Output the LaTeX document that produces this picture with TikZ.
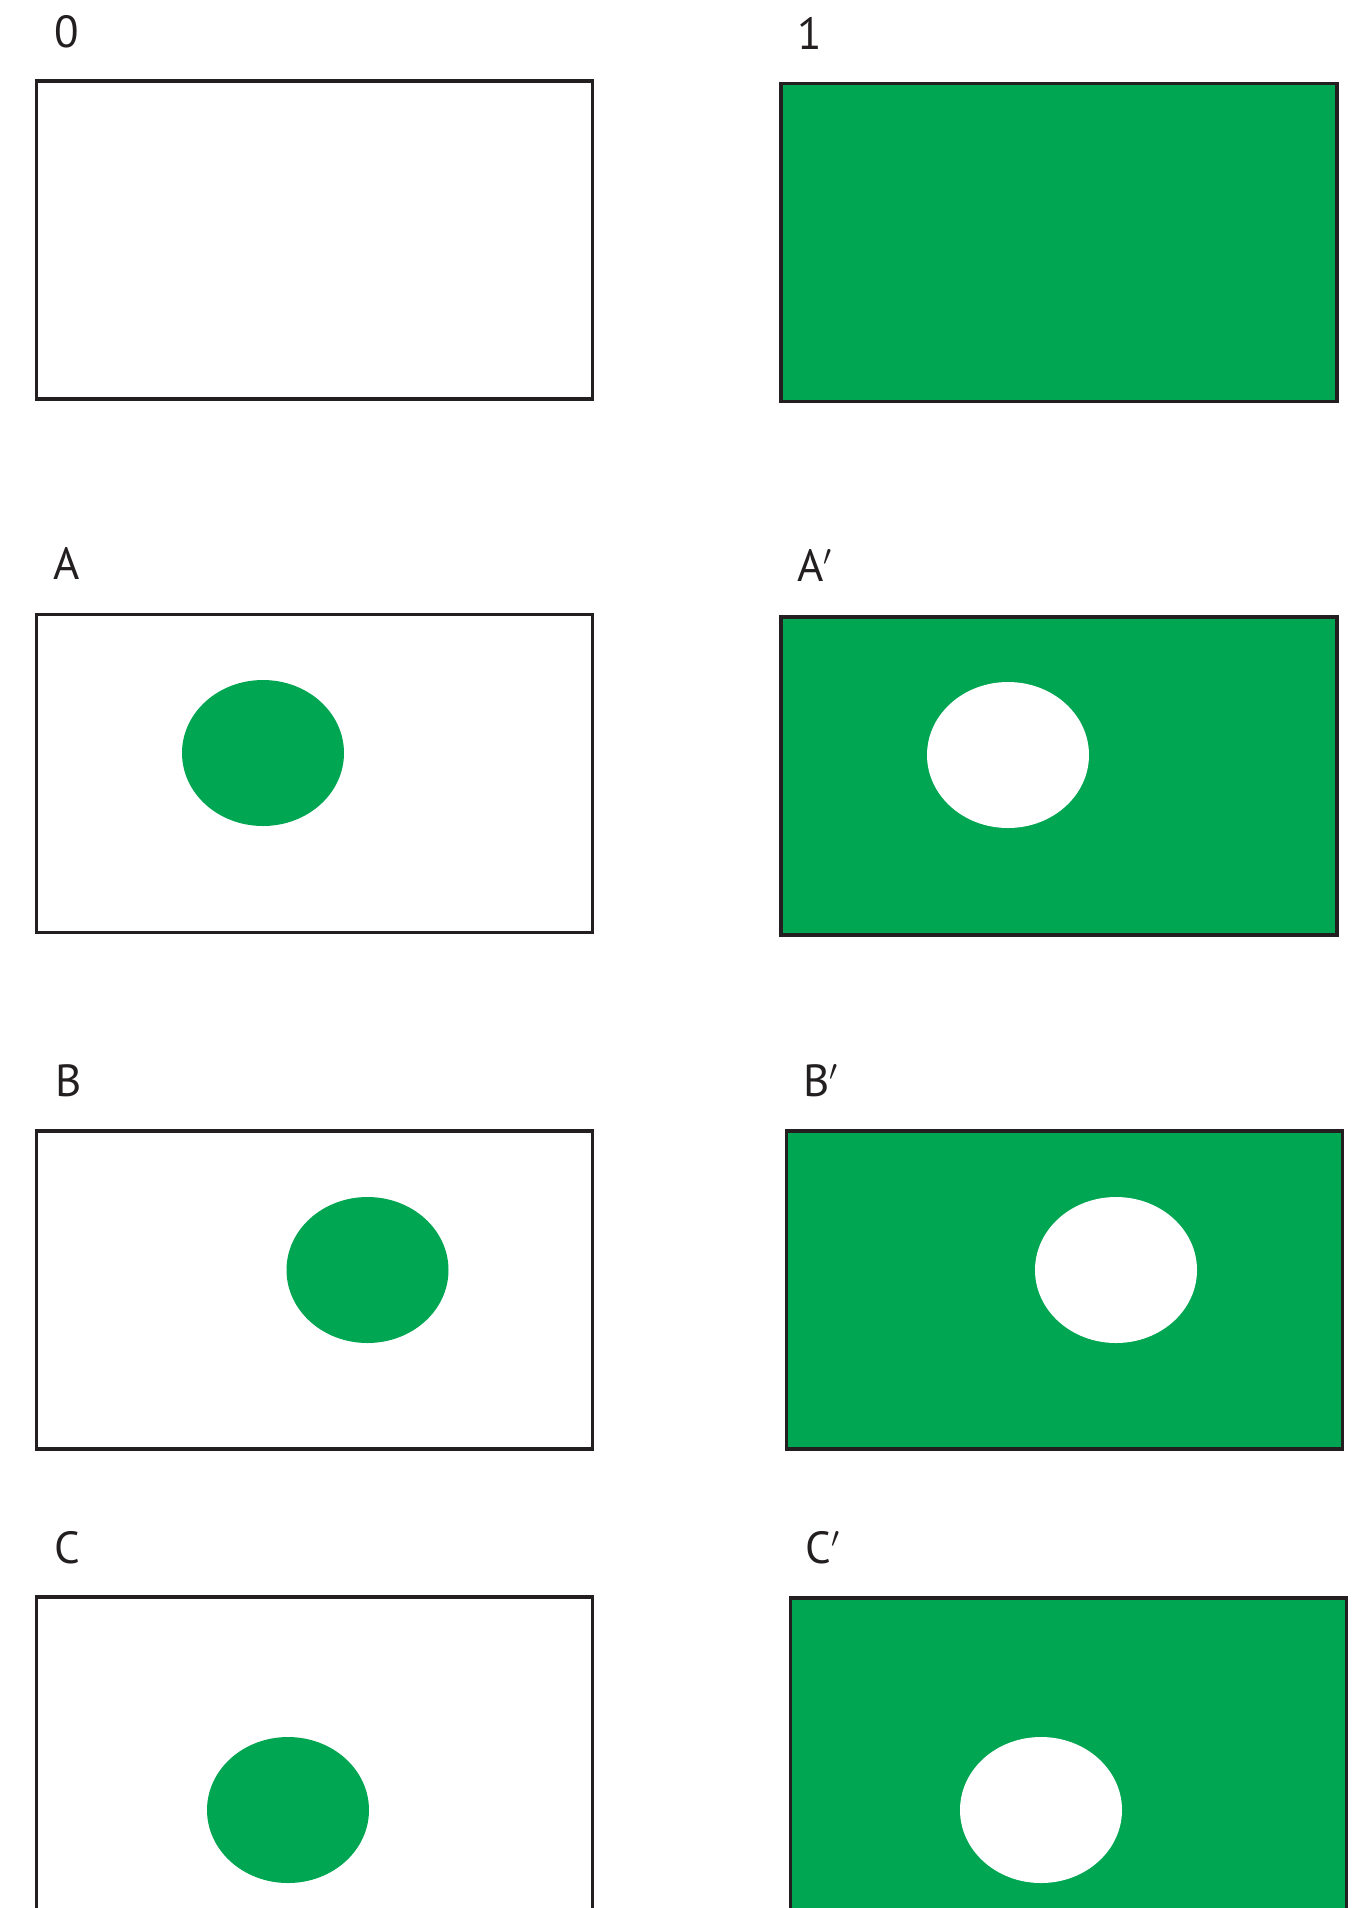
\documentclass[tikz,border=0pt]{standalone}
\usepackage{fontspec}
\setmainfont{PT Sans}
\usetikzlibrary{shapes.geometric}
\definecolor{rgreen}{HTML}{00A651}
\definecolor{rline}{HTML}{231F20}
\begin{document}
\begin{tikzpicture}[x=0.5pt,y=-0.5pt,
  panel/.style={draw=rline, line width=1.65pt, minimum width=278pt, minimum height=159pt, inner sep=0pt, outer sep=0pt},
  whitepanel/.style={panel, fill=white},
  greenpanel/.style={panel, fill=rgreen},
  spot/.style={ellipse, minimum width=81pt, minimum height=73pt, inner sep=0pt, draw=none},
  greenspot/.style={spot, fill=rgreen},
  whitespot/.style={spot, fill=white},
  lab/.style={anchor=base west, inner sep=0pt, text=rline, font=\fontsize{22.5pt}{26pt}\selectfont}]
\useasboundingbox (0,0) rectangle (1363,1908);
\clip (0,0) rectangle (1363,1908);
% row 0 / 1
\node[lab] (l0) at (54,47) {0};
\node[whitepanel] (p0) at (314.5,240) {};
\node[lab] (l1) at (797,49) {1};
\node[greenpanel] (p1) at (1059,242.5) {};
% row A
\node[lab] (lA) at (53,579) {A};
\node[whitepanel] (pA) at (314.5,773.5) {};
\node[greenspot] (eA) at (263,753) {};
\node[lab] (lAp) at (797,581) {A$^{\prime}$};
\node[greenpanel] (pAp) at (1059,776) {};
\node[whitespot] (eAp) at (1008,755) {};
% row B
\node[lab] (lB) at (55,1096) {B};
\node[whitepanel] (pB) at (314.5,1290) {};
\node[greenspot] (eB) at (367.5,1270) {};
\node[lab] (lBp) at (803,1096) {B$^{\prime}$};
\node[greenpanel] (pBp) at (1064.5,1290) {};
\node[whitespot] (eBp) at (1116,1270) {};
% row C
\node[lab] (lC) at (54,1563) {C};
\node[whitepanel] (pC) at (314.5,1756) {};
\node[greenspot] (eC) at (288,1810) {};
\node[lab] (lCp) at (805,1563) {C$^{\prime}$};
\node[greenpanel] (pCp) at (1068.5,1757) {};
\node[whitespot] (eCp) at (1041,1810) {};
\end{tikzpicture}
\end{document}
